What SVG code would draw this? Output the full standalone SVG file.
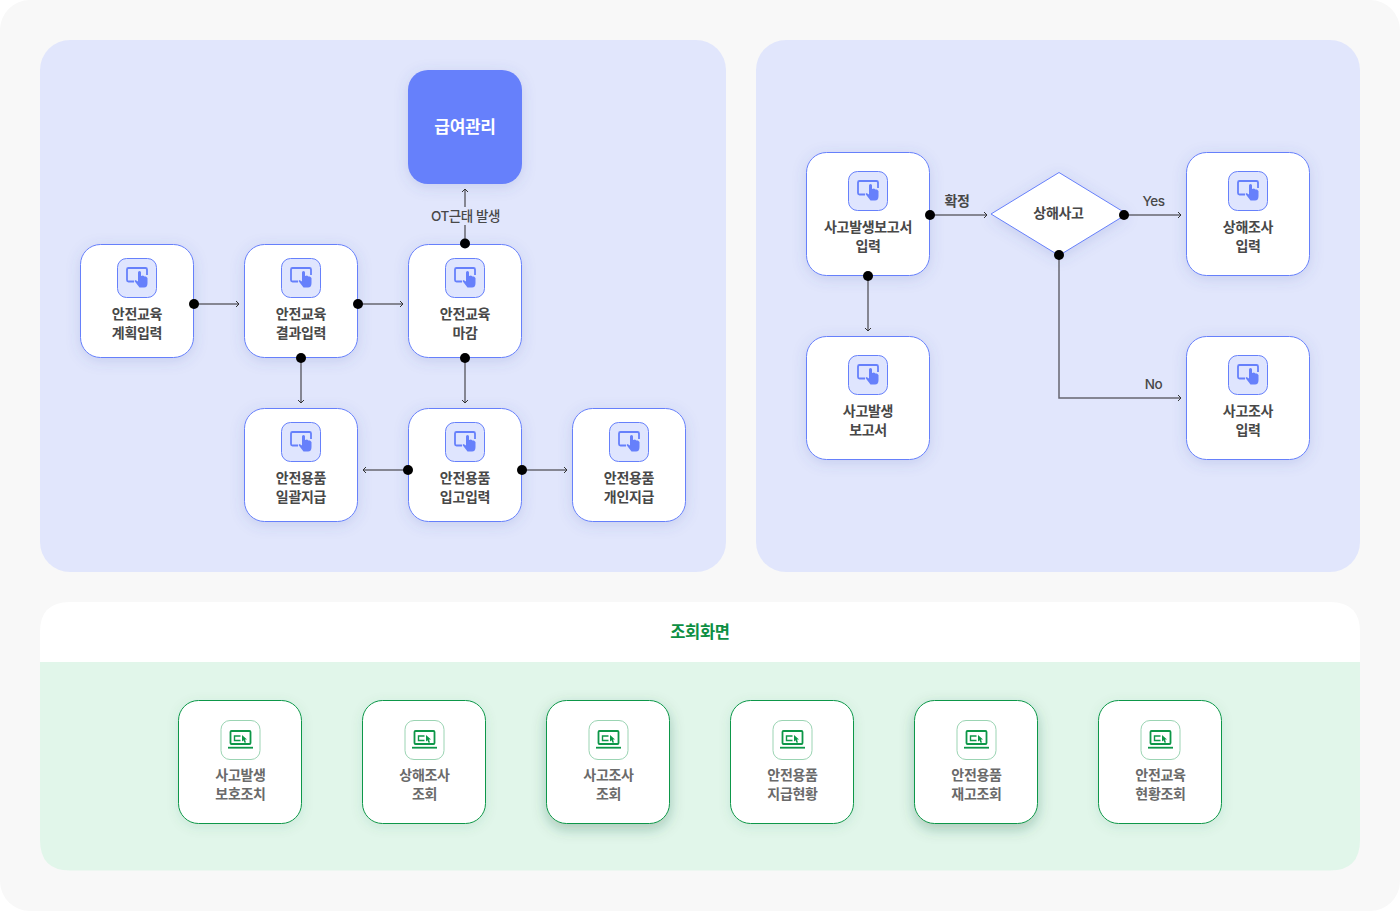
<svg xmlns="http://www.w3.org/2000/svg" width="1400" height="911" viewBox="0 0 1400 911">
<style>
text{font-family:"Noto Sans CJK KR","Inter",sans-serif;font-weight:600;font-size:14px;fill:#484848;text-anchor:middle;letter-spacing:-.3px}
.lat{font-family:"Inter","Noto Sans CJK KR",sans-serif;font-size:13.500px;font-weight:500;letter-spacing:-.4px}
.b{fill:#fff;stroke:#6680fb;stroke-width:1;filter:url(#sb)}
.g{fill:#fff;stroke:#0d9748;stroke-width:1;filter:url(#sg)}
.h{filter:url(#sh)}
.gt{fill:#6a6a6a}
.ln{fill:none;stroke:#66666f;stroke-width:1.500;marker-end:url(#arr)}
.dot{fill:#000}
</style>
<defs>
<filter id="sb" x="-30%" y="-30%" width="160%" height="160%"><feDropShadow dx="0" dy="3" stdDeviation="7" flood-color="#4a5ab0" flood-opacity=".18"/></filter>
<filter id="sg" x="-30%" y="-30%" width="160%" height="160%"><feDropShadow dx="0" dy="3" stdDeviation="6" flood-color="#2f7d55" flood-opacity=".12"/></filter>
<filter id="sh" x="-30%" y="-30%" width="160%" height="160%"><feDropShadow dx="0" dy="5" stdDeviation="7" flood-color="#1f5c3c" flood-opacity=".3"/></filter>
<marker id="arr" markerWidth="8" markerHeight="8" refX="6" refY="4" orient="auto" markerUnits="userSpaceOnUse"><path d="M3 1 L6 4 L3 7" fill="none" stroke="#333" stroke-width="1"/></marker>
<g id="ib">
<rect x="-19.500" y="-19.500" width="39" height="39" rx="9" fill="#dfe5fe" stroke="#6680fb" stroke-width="1"/>
<path d="M-3 3.500H-8.500Q-10 3.500-10 2V-8.500Q-10-10-8.500-10H8.500Q10-10 10-8.500V-3" fill="none" stroke="#6680fb" stroke-width="1.800"/>
<path d="M1-5.500Q1-7 2.500-7 4-7 4-5.500V-2L6-2.500 7.500-1.500 9-1.500 10.500 0V5Q10.500 9.500 7 9.500H2.500L-2.500 3-1.500 2 1 3.500Z" fill="#6680fb"/>
</g>
<g id="ig">
<rect x="-19.500" y="-19.500" width="39" height="39" rx="9" fill="#fff" stroke="#9bd4b3" stroke-width="1"/>
<rect x="-10" y="-9" width="20" height="13" rx="1" fill="none" stroke="#0d9748" stroke-width="1.800"/>
<path d="M-12.500 7.700H12.500" stroke="#0d9748" stroke-width="1.800"/>
<path d="M0-4H-6V.5H0" fill="none" stroke="#0d9748" stroke-width="1.400"/>
<path d="M1.500-5L6.500-.5 4.500-.5 5.500 2.500 4 2.800 3 .2 1.500 1.500Z" fill="#0d9748"/>
</g>
</defs>
<rect x="0" y="0" width="1400" height="911" fill="#fff"/>
<rect x="0" y="0" width="1400" height="911" rx="30" fill="#f8f8f8"/>
<rect x="40" y="40" width="686" height="532" rx="30" fill="#e1e6fc"/>
<rect x="756" y="40" width="604" height="532" rx="30" fill="#e1e6fc"/>
<path d="M40 662V632Q40 602 70 602H1330Q1360 602 1360 632V662Z" fill="#fff"/>
<path d="M40 662H1360V840Q1360 870.500 1330 870.500H70Q40 870.500 40 840Z" fill="#e1f6ea"/>
<text id="view-title" x="700" y="637.500" style="font-size:16.500px;font-weight:700;fill:#0d8f43">조회화면</text>

<g id="pay"><rect x="408" y="70" width="114" height="114" rx="20" fill="#6680fb" filter="url(#sb)"/><text x="465" y="133" style="font-size:17px;font-weight:700;fill:#fff">급여관리</text></g>

<g id="edu-plan"><rect class="b" x="80.500" y="244.500" width="113" height="113" rx="20"/><use href="#ib" x="137" y="278"/><text x="137" y="319">안전교육</text><text x="137" y="338">계획입력</text></g>
<g id="edu-result"><rect class="b" x="244.500" y="244.500" width="113" height="113" rx="20"/><use href="#ib" x="301" y="278"/><text x="301" y="319">안전교육</text><text x="301" y="338">결과입력</text></g>
<g id="edu-close"><rect class="b" x="408.500" y="244.500" width="113" height="113" rx="20"/><use href="#ib" x="465" y="278"/><text x="465" y="319">안전교육</text><text x="465" y="338">마감</text></g>
<g id="gear-bulk"><rect class="b" x="244.500" y="408.500" width="113" height="113" rx="20"/><use href="#ib" x="301" y="442"/><text x="301" y="483">안전용품</text><text x="301" y="502">일괄지급</text></g>
<g id="gear-in"><rect class="b" x="408.500" y="408.500" width="113" height="113" rx="20"/><use href="#ib" x="465" y="442"/><text x="465" y="483">안전용품</text><text x="465" y="502">입고입력</text></g>
<g id="gear-each"><rect class="b" x="572.500" y="408.500" width="113" height="113" rx="20"/><use href="#ib" x="629" y="442"/><text x="629" y="483">안전용품</text><text x="629" y="502">개인지급</text></g>

<g id="acc-report"><rect class="b" x="806.500" y="152.500" width="123" height="123" rx="20"/><use href="#ib" x="868" y="191"/><text x="868" y="232">사고발생보고서</text><text x="868" y="251">입력</text></g>
<g id="acc-doc"><rect class="b" x="806.500" y="336.500" width="123" height="123" rx="20"/><use href="#ib" x="868" y="375"/><text x="868" y="416">사고발생</text><text x="868" y="435">보고서</text></g>
<g id="injury-dec"><path class="b" d="M1059 172.500L1127 214 1059 255.500 991 214Z"/><text x="1058.500" y="218">상해사고</text></g>
<g id="injury-input"><rect class="b" x="1186.500" y="152.500" width="123" height="123" rx="20"/><use href="#ib" x="1248" y="191"/><text x="1248" y="232">상해조사</text><text x="1248" y="251">입력</text></g>
<g id="acc-input"><rect class="b" x="1186.500" y="336.500" width="123" height="123" rx="20"/><use href="#ib" x="1248" y="375"/><text x="1248" y="416">사고조사</text><text x="1248" y="435">입력</text></g>

<g id="v1"><rect class="g" x="178.500" y="700.500" width="123" height="123" rx="20"/><use href="#ig" x="240.500" y="740"/><text class="gt" x="240.500" y="780">사고발생</text><text class="gt" x="240.500" y="799">보호조치</text></g>
<g id="v2"><rect class="g" x="362.500" y="700.500" width="123" height="123" rx="20"/><use href="#ig" x="424.500" y="740"/><text class="gt" x="424.500" y="780">상해조사</text><text class="gt" x="424.500" y="799">조회</text></g>
<g id="v3"><rect class="g h" x="546.500" y="700.500" width="123" height="123" rx="20"/><use href="#ig" x="608.500" y="740"/><text class="gt" x="608.500" y="780">사고조사</text><text class="gt" x="608.500" y="799">조회</text></g>
<g id="v4"><rect class="g" x="730.500" y="700.500" width="123" height="123" rx="20"/><use href="#ig" x="792.500" y="740"/><text class="gt" x="792.500" y="780">안전용품</text><text class="gt" x="792.500" y="799">지급현황</text></g>
<g id="v5"><rect class="g h" x="914.500" y="700.500" width="123" height="123" rx="20"/><use href="#ig" x="976.500" y="740"/><text class="gt" x="976.500" y="780">안전용품</text><text class="gt" x="976.500" y="799">재고조회</text></g>
<g id="v6"><rect class="g" x="1098.500" y="700.500" width="123" height="123" rx="20"/><use href="#ig" x="1160.500" y="740"/><text class="gt" x="1160.500" y="780">안전교육</text><text class="gt" x="1160.500" y="799">현황조회</text></g>

<g id="connectors">
<path class="ln" d="M194 304H239"/>
<path class="ln" d="M358 304H403"/>
<path class="ln" d="M465 243V189"/>
<path class="ln" d="M301 358V403"/>
<path class="ln" d="M465 358V403"/>
<path class="ln" d="M408 470H363"/>
<path class="ln" d="M522 470H567"/>
<path class="ln" d="M930 215H987"/>
<path class="ln" d="M1124 215H1181"/>
<path class="ln" d="M868 276V331"/>
<path class="ln" d="M1059 255V398H1181"/>
<circle class="dot" cx="194" cy="304" r="5"/>
<circle class="dot" cx="358" cy="304" r="5"/>
<circle class="dot" cx="465" cy="243.500" r="5"/>
<circle class="dot" cx="301" cy="358" r="5"/>
<circle class="dot" cx="465" cy="358" r="5"/>
<circle class="dot" cx="408" cy="470" r="5"/>
<circle class="dot" cx="522" cy="470" r="5"/>
<circle class="dot" cx="930" cy="215" r="5"/>
<circle class="dot" cx="1124" cy="215" r="5"/>
<circle class="dot" cx="868" cy="276" r="5"/>
<circle class="dot" cx="1059" cy="255" r="5"/>
<rect x="429" y="207" width="72" height="18" fill="#e1e6fc"/>
<text class="lat" x="465.500" y="221">OT근태 발생</text>
<text x="957" y="206">확정</text>
<text class="lat" x="1153.500" y="206">Yes</text>
<text class="lat" x="1153.500" y="389">No</text>
</g>
</svg>
